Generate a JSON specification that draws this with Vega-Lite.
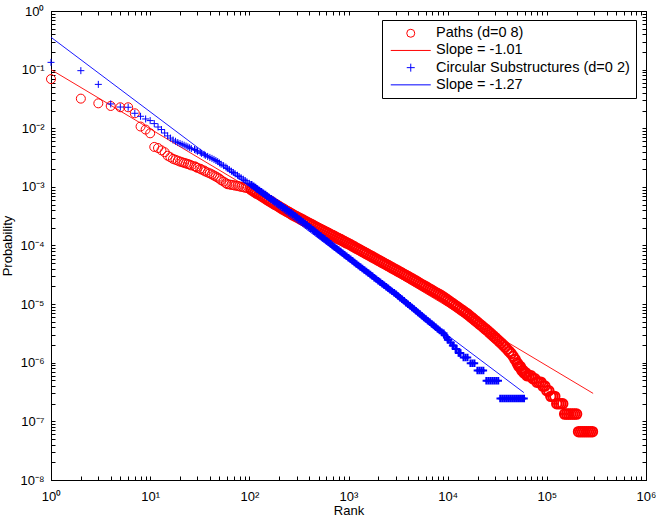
{
  "$schema": "https://vega.github.io/schema/vega-lite/v6.json",
  "width": 595,
  "height": 469,
  "autosize": {"type": "none"},
  "padding": {"left": 51, "top": 11, "right": 10, "bottom": 39},
  "background": "white",
  "config": {
    "view": {"stroke": "black", "strokeWidth": 1},
    "font": "Liberation Sans",
    "axis": {"labelFont": "Liberation Sans", "titleFont": "Liberation Sans", "labelColor": "black", "titleColor": "black", "tickColor": "black", "domainColor": "black", "grid": false, "titleFontWeight": "normal", "titleFontSize": 13, "labelFontSize": 13, "tickWidth": 1, "domainWidth": 1}
  },
  "datasets": {
    "pts": [
      {"series": "Paths (d=0 8)", "rank": 1, "probability": 0.069},
      {"series": "Paths (d=0 8)", "rank": 2, "probability": 0.032},
      {"series": "Paths (d=0 8)", "rank": 3, "probability": 0.0266},
      {"series": "Paths (d=0 8)", "rank": 4, "probability": 0.024},
      {"series": "Paths (d=0 8)", "rank": 5, "probability": 0.0228},
      {"series": "Paths (d=0 8)", "rank": 6, "probability": 0.0228},
      {"series": "Paths (d=0 8)", "rank": 7, "probability": 0.018},
      {"series": "Paths (d=0 8)", "rank": 8, "probability": 0.0107},
      {"series": "Paths (d=0 8)", "rank": 9, "probability": 0.0095},
      {"series": "Paths (d=0 8)", "rank": 10, "probability": 0.0082},
      {"series": "Paths (d=0 8)", "rank": 11, "probability": 0.0048},
      {"series": "Paths (d=0 8)", "rank": 12, "probability": 0.0046},
      {"series": "Paths (d=0 8)", "rank": 13, "probability": 0.0042},
      {"series": "Paths (d=0 8)", "rank": 14, "probability": 0.0039},
      {"series": "Paths (d=0 8)", "rank": 15, "probability": 0.0034},
      {"series": "Paths (d=0 8)", "rank": 16, "probability": 0.0032},
      {"series": "Paths (d=0 8)", "rank": 17, "probability": 0.0030},
      {"series": "Paths (d=0 8)", "rank": 18, "probability": 0.0029},
      {"series": "Paths (d=0 8)", "rank": 19, "probability": 0.0028},
      {"series": "Paths (d=0 8)", "rank": 20, "probability": 0.0027},
      {"series": "Paths (d=0 8)", "rank": 21, "probability": 0.00263},
      {"series": "Paths (d=0 8)", "rank": 22, "probability": 0.00257},
      {"series": "Paths (d=0 8)", "rank": 23, "probability": 0.00251},
      {"series": "Paths (d=0 8)", "rank": 24, "probability": 0.00245},
      {"series": "Paths (d=0 8)", "rank": 25, "probability": 0.0024},
      {"series": "Paths (d=0 8)", "rank": 26, "probability": 0.00232},
      {"series": "Paths (d=0 8)", "rank": 28, "probability": 0.00225},
      {"series": "Paths (d=0 8)", "rank": 29, "probability": 0.00218},
      {"series": "Paths (d=0 8)", "rank": 30, "probability": 0.00211},
      {"series": "Paths (d=0 8)", "rank": 32, "probability": 0.00204},
      {"series": "Paths (d=0 8)", "rank": 33, "probability": 0.00197},
      {"series": "Paths (d=0 8)", "rank": 35, "probability": 0.0019},
      {"series": "Paths (d=0 8)", "rank": 36, "probability": 0.00183},
      {"series": "Paths (d=0 8)", "rank": 38, "probability": 0.00176},
      {"series": "Paths (d=0 8)", "rank": 40, "probability": 0.0017},
      {"series": "Paths (d=0 8)", "rank": 42, "probability": 0.00163},
      {"series": "Paths (d=0 8)", "rank": 44, "probability": 0.00156},
      {"series": "Paths (d=0 8)", "rank": 46, "probability": 0.0015},
      {"series": "Paths (d=0 8)", "rank": 48, "probability": 0.00144},
      {"series": "Paths (d=0 8)", "rank": 50, "probability": 0.00138},
      {"series": "Paths (d=0 8)", "rank": 52, "probability": 0.0013},
      {"series": "Paths (d=0 8)", "rank": 55, "probability": 0.00123},
      {"series": "Paths (d=0 8)", "rank": 58, "probability": 0.00116},
      {"series": "Paths (d=0 8)", "rank": 60, "probability": 0.00111},
      {"series": "Paths (d=0 8)", "rank": 63, "probability": 0.0011},
      {"series": "Paths (d=0 8)", "rank": 66, "probability": 0.00108},
      {"series": "Paths (d=0 8)", "rank": 69, "probability": 0.00107},
      {"series": "Paths (d=0 8)", "rank": 72, "probability": 0.00105},
      {"series": "Paths (d=0 8)", "rank": 76, "probability": 0.00104},
      {"series": "Paths (d=0 8)", "rank": 79, "probability": 0.00102},
      {"series": "Paths (d=0 8)", "rank": 83, "probability": 0.001},
      {"series": "Paths (d=0 8)", "rank": 87, "probability": 0.000986},
      {"series": "Paths (d=0 8)", "rank": 91, "probability": 0.000968},
      {"series": "Paths (d=0 8)", "rank": 95, "probability": 0.000951},
      {"series": "Paths (d=0 8)", "rank": 100, "probability": 0.000933},
      {"series": "Paths (d=0 8)", "rank": 105, "probability": 0.000891},
      {"series": "Paths (d=0 8)", "rank": 110, "probability": 0.000851},
      {"series": "Paths (d=0 8)", "rank": 115, "probability": 0.000813},
      {"series": "Paths (d=0 8)", "rank": 120, "probability": 0.000776},
      {"series": "Paths (d=0 8)", "rank": 126, "probability": 0.000741},
      {"series": "Paths (d=0 8)", "rank": 132, "probability": 0.000706},
      {"series": "Paths (d=0 8)", "rank": 138, "probability": 0.000673},
      {"series": "Paths (d=0 8)", "rank": 145, "probability": 0.000641},
      {"series": "Paths (d=0 8)", "rank": 151, "probability": 0.000611},
      {"series": "Paths (d=0 8)", "rank": 158, "probability": 0.000582},
      {"series": "Paths (d=0 8)", "rank": 166, "probability": 0.000555},
      {"series": "Paths (d=0 8)", "rank": 174, "probability": 0.000528},
      {"series": "Paths (d=0 8)", "rank": 182, "probability": 0.000504},
      {"series": "Paths (d=0 8)", "rank": 191, "probability": 0.00048},
      {"series": "Paths (d=0 8)", "rank": 200, "probability": 0.000457},
      {"series": "Paths (d=0 8)", "rank": 209, "probability": 0.000437},
      {"series": "Paths (d=0 8)", "rank": 219, "probability": 0.000418},
      {"series": "Paths (d=0 8)", "rank": 229, "probability": 0.000399},
      {"series": "Paths (d=0 8)", "rank": 240, "probability": 0.000382},
      {"series": "Paths (d=0 8)", "rank": 251, "probability": 0.000365},
      {"series": "Paths (d=0 8)", "rank": 263, "probability": 0.000349},
      {"series": "Paths (d=0 8)", "rank": 275, "probability": 0.000333},
      {"series": "Paths (d=0 8)", "rank": 288, "probability": 0.00032},
      {"series": "Paths (d=0 8)", "rank": 302, "probability": 0.000307},
      {"series": "Paths (d=0 8)", "rank": 316, "probability": 0.000294},
      {"series": "Paths (d=0 8)", "rank": 331, "probability": 0.000282},
      {"series": "Paths (d=0 8)", "rank": 347, "probability": 0.000271},
      {"series": "Paths (d=0 8)", "rank": 363, "probability": 0.00026},
      {"series": "Paths (d=0 8)", "rank": 380, "probability": 0.000249},
      {"series": "Paths (d=0 8)", "rank": 398, "probability": 0.00024},
      {"series": "Paths (d=0 8)", "rank": 417, "probability": 0.00023},
      {"series": "Paths (d=0 8)", "rank": 437, "probability": 0.000221},
      {"series": "Paths (d=0 8)", "rank": 457, "probability": 0.000212},
      {"series": "Paths (d=0 8)", "rank": 479, "probability": 0.000203},
      {"series": "Paths (d=0 8)", "rank": 501, "probability": 0.000195},
      {"series": "Paths (d=0 8)", "rank": 525, "probability": 0.000187},
      {"series": "Paths (d=0 8)", "rank": 550, "probability": 0.00018},
      {"series": "Paths (d=0 8)", "rank": 575, "probability": 0.000173},
      {"series": "Paths (d=0 8)", "rank": 603, "probability": 0.000166},
      {"series": "Paths (d=0 8)", "rank": 631, "probability": 0.00016},
      {"series": "Paths (d=0 8)", "rank": 661, "probability": 0.000153},
      {"series": "Paths (d=0 8)", "rank": 692, "probability": 0.000148},
      {"series": "Paths (d=0 8)", "rank": 724, "probability": 0.000142},
      {"series": "Paths (d=0 8)", "rank": 759, "probability": 0.000136},
      {"series": "Paths (d=0 8)", "rank": 794, "probability": 0.000131},
      {"series": "Paths (d=0 8)", "rank": 832, "probability": 0.000126},
      {"series": "Paths (d=0 8)", "rank": 871, "probability": 0.000121},
      {"series": "Paths (d=0 8)", "rank": 912, "probability": 0.000116},
      {"series": "Paths (d=0 8)", "rank": 955, "probability": 0.000111},
      {"series": "Paths (d=0 8)", "rank": 1000, "probability": 0.000107},
      {"series": "Paths (d=0 8)", "rank": 1047, "probability": 0.000103},
      {"series": "Paths (d=0 8)", "rank": 1096, "probability": 9.84e-5},
      {"series": "Paths (d=0 8)", "rank": 1148, "probability": 9.42e-5},
      {"series": "Paths (d=0 8)", "rank": 1202, "probability": 9.02e-5},
      {"series": "Paths (d=0 8)", "rank": 1259, "probability": 8.65e-5},
      {"series": "Paths (d=0 8)", "rank": 1318, "probability": 8.28e-5},
      {"series": "Paths (d=0 8)", "rank": 1380, "probability": 7.93e-5},
      {"series": "Paths (d=0 8)", "rank": 1445, "probability": 7.6e-5},
      {"series": "Paths (d=0 8)", "rank": 1514, "probability": 7.28e-5},
      {"series": "Paths (d=0 8)", "rank": 1585, "probability": 6.97e-5},
      {"series": "Paths (d=0 8)", "rank": 1660, "probability": 6.68e-5},
      {"series": "Paths (d=0 8)", "rank": 1738, "probability": 6.4e-5},
      {"series": "Paths (d=0 8)", "rank": 1820, "probability": 6.12e-5},
      {"series": "Paths (d=0 8)", "rank": 1905, "probability": 5.87e-5},
      {"series": "Paths (d=0 8)", "rank": 1995, "probability": 5.62e-5},
      {"series": "Paths (d=0 8)", "rank": 2089, "probability": 5.38e-5},
      {"series": "Paths (d=0 8)", "rank": 2188, "probability": 5.16e-5},
      {"series": "Paths (d=0 8)", "rank": 2291, "probability": 4.94e-5},
      {"series": "Paths (d=0 8)", "rank": 2399, "probability": 4.73e-5},
      {"series": "Paths (d=0 8)", "rank": 2512, "probability": 4.54e-5},
      {"series": "Paths (d=0 8)", "rank": 2630, "probability": 4.35e-5},
      {"series": "Paths (d=0 8)", "rank": 2754, "probability": 4.16e-5},
      {"series": "Paths (d=0 8)", "rank": 2884, "probability": 3.99e-5},
      {"series": "Paths (d=0 8)", "rank": 3020, "probability": 3.82e-5},
      {"series": "Paths (d=0 8)", "rank": 3162, "probability": 3.66e-5},
      {"series": "Paths (d=0 8)", "rank": 3311, "probability": 3.51e-5},
      {"series": "Paths (d=0 8)", "rank": 3467, "probability": 3.36e-5},
      {"series": "Paths (d=0 8)", "rank": 3631, "probability": 3.21e-5},
      {"series": "Paths (d=0 8)", "rank": 3802, "probability": 3.08e-5},
      {"series": "Paths (d=0 8)", "rank": 3981, "probability": 2.95e-5},
      {"series": "Paths (d=0 8)", "rank": 4169, "probability": 2.82e-5},
      {"series": "Paths (d=0 8)", "rank": 4365, "probability": 2.7e-5},
      {"series": "Paths (d=0 8)", "rank": 4571, "probability": 2.58e-5},
      {"series": "Paths (d=0 8)", "rank": 4786, "probability": 2.47e-5},
      {"series": "Paths (d=0 8)", "rank": 5012, "probability": 2.36e-5},
      {"series": "Paths (d=0 8)", "rank": 5248, "probability": 2.25e-5},
      {"series": "Paths (d=0 8)", "rank": 5495, "probability": 2.15e-5},
      {"series": "Paths (d=0 8)", "rank": 5754, "probability": 2.06e-5},
      {"series": "Paths (d=0 8)", "rank": 6026, "probability": 1.97e-5},
      {"series": "Paths (d=0 8)", "rank": 6310, "probability": 1.88e-5},
      {"series": "Paths (d=0 8)", "rank": 6607, "probability": 1.8e-5},
      {"series": "Paths (d=0 8)", "rank": 6918, "probability": 1.72e-5},
      {"series": "Paths (d=0 8)", "rank": 7244, "probability": 1.64e-5},
      {"series": "Paths (d=0 8)", "rank": 7586, "probability": 1.57e-5},
      {"series": "Paths (d=0 8)", "rank": 7943, "probability": 1.5e-5},
      {"series": "Paths (d=0 8)", "rank": 8318, "probability": 1.44e-5},
      {"series": "Paths (d=0 8)", "rank": 8710, "probability": 1.37e-5},
      {"series": "Paths (d=0 8)", "rank": 9120, "probability": 1.31e-5},
      {"series": "Paths (d=0 8)", "rank": 9550, "probability": 1.24e-5},
      {"series": "Paths (d=0 8)", "rank": 10000, "probability": 1.17e-5},
      {"series": "Paths (d=0 8)", "rank": 10471, "probability": 1.11e-5},
      {"series": "Paths (d=0 8)", "rank": 10965, "probability": 1.05e-5},
      {"series": "Paths (d=0 8)", "rank": 11482, "probability": 9.93e-6},
      {"series": "Paths (d=0 8)", "rank": 12023, "probability": 9.4e-6},
      {"series": "Paths (d=0 8)", "rank": 12589, "probability": 8.91e-6},
      {"series": "Paths (d=0 8)", "rank": 13183, "probability": 8.43e-6},
      {"series": "Paths (d=0 8)", "rank": 13804, "probability": 7.98e-6},
      {"series": "Paths (d=0 8)", "rank": 14454, "probability": 7.55e-6},
      {"series": "Paths (d=0 8)", "rank": 15136, "probability": 7.14e-6},
      {"series": "Paths (d=0 8)", "rank": 15849, "probability": 6.76e-6},
      {"series": "Paths (d=0 8)", "rank": 16596, "probability": 6.34e-6},
      {"series": "Paths (d=0 8)", "rank": 17378, "probability": 5.94e-6},
      {"series": "Paths (d=0 8)", "rank": 18197, "probability": 5.57e-6},
      {"series": "Paths (d=0 8)", "rank": 19055, "probability": 5.22e-6},
      {"series": "Paths (d=0 8)", "rank": 19953, "probability": 4.9e-6},
      {"series": "Paths (d=0 8)", "rank": 20893, "probability": 4.59e-6},
      {"series": "Paths (d=0 8)", "rank": 21878, "probability": 4.31e-6},
      {"series": "Paths (d=0 8)", "rank": 22909, "probability": 4.04e-6},
      {"series": "Paths (d=0 8)", "rank": 23988, "probability": 3.78e-6},
      {"series": "Paths (d=0 8)", "rank": 25119, "probability": 3.55e-6},
      {"series": "Paths (d=0 8)", "rank": 26303, "probability": 3.3e-6},
      {"series": "Paths (d=0 8)", "rank": 27542, "probability": 3.08e-6},
      {"series": "Paths (d=0 8)", "rank": 28840, "probability": 2.87e-6},
      {"series": "Paths (d=0 8)", "rank": 30200, "probability": 2.68e-6},
      {"series": "Paths (d=0 8)", "rank": 31623, "probability": 2.49e-6},
      {"series": "Paths (d=0 8)", "rank": 33113, "probability": 2.32e-6},
      {"series": "Paths (d=0 8)", "rank": 34674, "probability": 2.16e-6},
      {"series": "Paths (d=0 8)", "rank": 36308, "probability": 2.0e-6},
      {"series": "Paths (d=0 8)", "rank": 38019, "probability": 1.85e-6},
      {"series": "Paths (d=0 8)", "rank": 39811, "probability": 1.7e-6},
      {"series": "Paths (d=0 8)", "rank": 41687, "probability": 1.56e-6},
      {"series": "Paths (d=0 8)", "rank": 43652, "probability": 1.44e-6},
      {"series": "Paths (d=0 8)", "rank": 45709, "probability": 1.29e-6},
      {"series": "Paths (d=0 8)", "rank": 47863, "probability": 1.14e-6},
      {"series": "Paths (d=0 8)", "rank": 50119, "probability": 1.0e-6},
      {"series": "Paths (d=0 8)", "rank": 51286, "probability": 9.33e-7},
      {"series": "Paths (d=0 8)", "rank": 52481, "probability": 8.67e-7},
      {"series": "Paths (d=0 8)", "rank": 53703, "probability": 8.67e-7},
      {"series": "Paths (d=0 8)", "rank": 54954, "probability": 8.0e-7},
      {"series": "Paths (d=0 8)", "rank": 56234, "probability": 7.33e-7},
      {"series": "Paths (d=0 8)", "rank": 57544, "probability": 7.33e-7},
      {"series": "Paths (d=0 8)", "rank": 58884, "probability": 6.67e-7},
      {"series": "Paths (d=0 8)", "rank": 60256, "probability": 6.67e-7},
      {"series": "Paths (d=0 8)", "rank": 61660, "probability": 6.67e-7},
      {"series": "Paths (d=0 8)", "rank": 63096, "probability": 6.0e-7},
      {"series": "Paths (d=0 8)", "rank": 66069, "probability": 6.0e-7},
      {"series": "Paths (d=0 8)", "rank": 69183, "probability": 6.0e-7},
      {"series": "Paths (d=0 8)", "rank": 72444, "probability": 5.33e-7},
      {"series": "Paths (d=0 8)", "rank": 75858, "probability": 5.33e-7},
      {"series": "Paths (d=0 8)", "rank": 79433, "probability": 4.67e-7},
      {"series": "Paths (d=0 8)", "rank": 83176, "probability": 4.67e-7},
      {"series": "Paths (d=0 8)", "rank": 87096, "probability": 4.67e-7},
      {"series": "Paths (d=0 8)", "rank": 91201, "probability": 4.0e-7},
      {"series": "Paths (d=0 8)", "rank": 95499, "probability": 4.0e-7},
      {"series": "Paths (d=0 8)", "rank": 100000, "probability": 3.33e-7},
      {"series": "Paths (d=0 8)", "rank": 104713, "probability": 3.33e-7},
      {"series": "Paths (d=0 8)", "rank": 109648, "probability": 2.67e-7},
      {"series": "Paths (d=0 8)", "rank": 114815, "probability": 2.67e-7},
      {"series": "Paths (d=0 8)", "rank": 120226, "probability": 2.67e-7},
      {"series": "Paths (d=0 8)", "rank": 125893, "probability": 2.0e-7},
      {"series": "Paths (d=0 8)", "rank": 131826, "probability": 2.0e-7},
      {"series": "Paths (d=0 8)", "rank": 138038, "probability": 2.0e-7},
      {"series": "Paths (d=0 8)", "rank": 144544, "probability": 2.0e-7},
      {"series": "Paths (d=0 8)", "rank": 151356, "probability": 1.33e-7},
      {"series": "Paths (d=0 8)", "rank": 158489, "probability": 1.33e-7},
      {"series": "Paths (d=0 8)", "rank": 165959, "probability": 1.33e-7},
      {"series": "Paths (d=0 8)", "rank": 173780, "probability": 1.33e-7},
      {"series": "Paths (d=0 8)", "rank": 181970, "probability": 1.33e-7},
      {"series": "Paths (d=0 8)", "rank": 190546, "probability": 1.33e-7},
      {"series": "Paths (d=0 8)", "rank": 199526, "probability": 1.33e-7},
      {"series": "Paths (d=0 8)", "rank": 208930, "probability": 6.67e-8},
      {"series": "Paths (d=0 8)", "rank": 218776, "probability": 6.67e-8},
      {"series": "Paths (d=0 8)", "rank": 229087, "probability": 6.67e-8},
      {"series": "Paths (d=0 8)", "rank": 239883, "probability": 6.67e-8},
      {"series": "Paths (d=0 8)", "rank": 251189, "probability": 6.67e-8},
      {"series": "Paths (d=0 8)", "rank": 263027, "probability": 6.67e-8},
      {"series": "Paths (d=0 8)", "rank": 275423, "probability": 6.67e-8},
      {"series": "Paths (d=0 8)", "rank": 288403, "probability": 6.67e-8},
      {"series": "Circular Substructures (d=0 2)", "rank": 1, "probability": 0.133},
      {"series": "Circular Substructures (d=0 2)", "rank": 2, "probability": 0.096},
      {"series": "Circular Substructures (d=0 2)", "rank": 3, "probability": 0.056},
      {"series": "Circular Substructures (d=0 2)", "rank": 4, "probability": 0.026},
      {"series": "Circular Substructures (d=0 2)", "rank": 5, "probability": 0.023},
      {"series": "Circular Substructures (d=0 2)", "rank": 6, "probability": 0.0228},
      {"series": "Circular Substructures (d=0 2)", "rank": 7, "probability": 0.018},
      {"series": "Circular Substructures (d=0 2)", "rank": 8, "probability": 0.016},
      {"series": "Circular Substructures (d=0 2)", "rank": 9, "probability": 0.0144},
      {"series": "Circular Substructures (d=0 2)", "rank": 10, "probability": 0.0135},
      {"series": "Circular Substructures (d=0 2)", "rank": 11, "probability": 0.012},
      {"series": "Circular Substructures (d=0 2)", "rank": 12, "probability": 0.0105},
      {"series": "Circular Substructures (d=0 2)", "rank": 13, "probability": 0.0095},
      {"series": "Circular Substructures (d=0 2)", "rank": 14, "probability": 0.0083},
      {"series": "Circular Substructures (d=0 2)", "rank": 15, "probability": 0.0074},
      {"series": "Circular Substructures (d=0 2)", "rank": 16, "probability": 0.0068},
      {"series": "Circular Substructures (d=0 2)", "rank": 17, "probability": 0.0063},
      {"series": "Circular Substructures (d=0 2)", "rank": 18, "probability": 0.006},
      {"series": "Circular Substructures (d=0 2)", "rank": 19, "probability": 0.0057},
      {"series": "Circular Substructures (d=0 2)", "rank": 20, "probability": 0.0055},
      {"series": "Circular Substructures (d=0 2)", "rank": 21, "probability": 0.00532},
      {"series": "Circular Substructures (d=0 2)", "rank": 22, "probability": 0.00514},
      {"series": "Circular Substructures (d=0 2)", "rank": 23, "probability": 0.00497},
      {"series": "Circular Substructures (d=0 2)", "rank": 24, "probability": 0.00481},
      {"series": "Circular Substructures (d=0 2)", "rank": 25, "probability": 0.00465},
      {"series": "Circular Substructures (d=0 2)", "rank": 26, "probability": 0.00449},
      {"series": "Circular Substructures (d=0 2)", "rank": 28, "probability": 0.00434},
      {"series": "Circular Substructures (d=0 2)", "rank": 29, "probability": 0.0042},
      {"series": "Circular Substructures (d=0 2)", "rank": 30, "probability": 0.00405},
      {"series": "Circular Substructures (d=0 2)", "rank": 32, "probability": 0.00389},
      {"series": "Circular Substructures (d=0 2)", "rank": 33, "probability": 0.00373},
      {"series": "Circular Substructures (d=0 2)", "rank": 35, "probability": 0.00359},
      {"series": "Circular Substructures (d=0 2)", "rank": 36, "probability": 0.00345},
      {"series": "Circular Substructures (d=0 2)", "rank": 38, "probability": 0.00331},
      {"series": "Circular Substructures (d=0 2)", "rank": 40, "probability": 0.00318},
      {"series": "Circular Substructures (d=0 2)", "rank": 42, "probability": 0.00306},
      {"series": "Circular Substructures (d=0 2)", "rank": 44, "probability": 0.00294},
      {"series": "Circular Substructures (d=0 2)", "rank": 46, "probability": 0.00282},
      {"series": "Circular Substructures (d=0 2)", "rank": 48, "probability": 0.0027},
      {"series": "Circular Substructures (d=0 2)", "rank": 50, "probability": 0.00256},
      {"series": "Circular Substructures (d=0 2)", "rank": 52, "probability": 0.00243},
      {"series": "Circular Substructures (d=0 2)", "rank": 55, "probability": 0.0023},
      {"series": "Circular Substructures (d=0 2)", "rank": 58, "probability": 0.00218},
      {"series": "Circular Substructures (d=0 2)", "rank": 60, "probability": 0.00207},
      {"series": "Circular Substructures (d=0 2)", "rank": 63, "probability": 0.00196},
      {"series": "Circular Substructures (d=0 2)", "rank": 66, "probability": 0.00185},
      {"series": "Circular Substructures (d=0 2)", "rank": 69, "probability": 0.00176},
      {"series": "Circular Substructures (d=0 2)", "rank": 72, "probability": 0.00167},
      {"series": "Circular Substructures (d=0 2)", "rank": 76, "probability": 0.00158},
      {"series": "Circular Substructures (d=0 2)", "rank": 79, "probability": 0.0015},
      {"series": "Circular Substructures (d=0 2)", "rank": 83, "probability": 0.00142},
      {"series": "Circular Substructures (d=0 2)", "rank": 87, "probability": 0.00135},
      {"series": "Circular Substructures (d=0 2)", "rank": 91, "probability": 0.00128},
      {"series": "Circular Substructures (d=0 2)", "rank": 95, "probability": 0.00121},
      {"series": "Circular Substructures (d=0 2)", "rank": 100, "probability": 0.00115},
      {"series": "Circular Substructures (d=0 2)", "rank": 105, "probability": 0.00109},
      {"series": "Circular Substructures (d=0 2)", "rank": 110, "probability": 0.00103},
      {"series": "Circular Substructures (d=0 2)", "rank": 115, "probability": 0.000973},
      {"series": "Circular Substructures (d=0 2)", "rank": 120, "probability": 0.000921},
      {"series": "Circular Substructures (d=0 2)", "rank": 126, "probability": 0.000871},
      {"series": "Circular Substructures (d=0 2)", "rank": 132, "probability": 0.000824},
      {"series": "Circular Substructures (d=0 2)", "rank": 138, "probability": 0.000781},
      {"series": "Circular Substructures (d=0 2)", "rank": 145, "probability": 0.000739},
      {"series": "Circular Substructures (d=0 2)", "rank": 151, "probability": 0.0007},
      {"series": "Circular Substructures (d=0 2)", "rank": 158, "probability": 0.000662},
      {"series": "Circular Substructures (d=0 2)", "rank": 166, "probability": 0.000627},
      {"series": "Circular Substructures (d=0 2)", "rank": 174, "probability": 0.000593},
      {"series": "Circular Substructures (d=0 2)", "rank": 182, "probability": 0.000561},
      {"series": "Circular Substructures (d=0 2)", "rank": 191, "probability": 0.000531},
      {"series": "Circular Substructures (d=0 2)", "rank": 200, "probability": 0.000502},
      {"series": "Circular Substructures (d=0 2)", "rank": 209, "probability": 0.000475},
      {"series": "Circular Substructures (d=0 2)", "rank": 219, "probability": 0.00045},
      {"series": "Circular Substructures (d=0 2)", "rank": 229, "probability": 0.000426},
      {"series": "Circular Substructures (d=0 2)", "rank": 240, "probability": 0.000403},
      {"series": "Circular Substructures (d=0 2)", "rank": 251, "probability": 0.000381},
      {"series": "Circular Substructures (d=0 2)", "rank": 263, "probability": 0.000361},
      {"series": "Circular Substructures (d=0 2)", "rank": 275, "probability": 0.000342},
      {"series": "Circular Substructures (d=0 2)", "rank": 288, "probability": 0.000321},
      {"series": "Circular Substructures (d=0 2)", "rank": 302, "probability": 0.000303},
      {"series": "Circular Substructures (d=0 2)", "rank": 316, "probability": 0.000284},
      {"series": "Circular Substructures (d=0 2)", "rank": 331, "probability": 0.000268},
      {"series": "Circular Substructures (d=0 2)", "rank": 347, "probability": 0.000252},
      {"series": "Circular Substructures (d=0 2)", "rank": 363, "probability": 0.000237},
      {"series": "Circular Substructures (d=0 2)", "rank": 380, "probability": 0.000223},
      {"series": "Circular Substructures (d=0 2)", "rank": 398, "probability": 0.000209},
      {"series": "Circular Substructures (d=0 2)", "rank": 417, "probability": 0.000197},
      {"series": "Circular Substructures (d=0 2)", "rank": 437, "probability": 0.000185},
      {"series": "Circular Substructures (d=0 2)", "rank": 457, "probability": 0.000175},
      {"series": "Circular Substructures (d=0 2)", "rank": 479, "probability": 0.000164},
      {"series": "Circular Substructures (d=0 2)", "rank": 501, "probability": 0.000154},
      {"series": "Circular Substructures (d=0 2)", "rank": 525, "probability": 0.000145},
      {"series": "Circular Substructures (d=0 2)", "rank": 550, "probability": 0.000136},
      {"series": "Circular Substructures (d=0 2)", "rank": 575, "probability": 0.000129},
      {"series": "Circular Substructures (d=0 2)", "rank": 603, "probability": 0.000121},
      {"series": "Circular Substructures (d=0 2)", "rank": 631, "probability": 0.000114},
      {"series": "Circular Substructures (d=0 2)", "rank": 661, "probability": 0.000107},
      {"series": "Circular Substructures (d=0 2)", "rank": 692, "probability": 0.0001},
      {"series": "Circular Substructures (d=0 2)", "rank": 724, "probability": 9.46e-5},
      {"series": "Circular Substructures (d=0 2)", "rank": 759, "probability": 8.9e-5},
      {"series": "Circular Substructures (d=0 2)", "rank": 794, "probability": 8.38e-5},
      {"series": "Circular Substructures (d=0 2)", "rank": 832, "probability": 7.87e-5},
      {"series": "Circular Substructures (d=0 2)", "rank": 871, "probability": 7.41e-5},
      {"series": "Circular Substructures (d=0 2)", "rank": 912, "probability": 6.97e-5},
      {"series": "Circular Substructures (d=0 2)", "rank": 955, "probability": 6.56e-5},
      {"series": "Circular Substructures (d=0 2)", "rank": 1000, "probability": 6.17e-5},
      {"series": "Circular Substructures (d=0 2)", "rank": 1047, "probability": 5.81e-5},
      {"series": "Circular Substructures (d=0 2)", "rank": 1096, "probability": 5.47e-5},
      {"series": "Circular Substructures (d=0 2)", "rank": 1148, "probability": 5.15e-5},
      {"series": "Circular Substructures (d=0 2)", "rank": 1202, "probability": 4.85e-5},
      {"series": "Circular Substructures (d=0 2)", "rank": 1259, "probability": 4.57e-5},
      {"series": "Circular Substructures (d=0 2)", "rank": 1318, "probability": 4.31e-5},
      {"series": "Circular Substructures (d=0 2)", "rank": 1380, "probability": 4.06e-5},
      {"series": "Circular Substructures (d=0 2)", "rank": 1445, "probability": 3.82e-5},
      {"series": "Circular Substructures (d=0 2)", "rank": 1514, "probability": 3.6e-5},
      {"series": "Circular Substructures (d=0 2)", "rank": 1585, "probability": 3.39e-5},
      {"series": "Circular Substructures (d=0 2)", "rank": 1660, "probability": 3.19e-5},
      {"series": "Circular Substructures (d=0 2)", "rank": 1738, "probability": 3.01e-5},
      {"series": "Circular Substructures (d=0 2)", "rank": 1820, "probability": 2.83e-5},
      {"series": "Circular Substructures (d=0 2)", "rank": 1905, "probability": 2.67e-5},
      {"series": "Circular Substructures (d=0 2)", "rank": 1995, "probability": 2.51e-5},
      {"series": "Circular Substructures (d=0 2)", "rank": 2089, "probability": 2.37e-5},
      {"series": "Circular Substructures (d=0 2)", "rank": 2188, "probability": 2.23e-5},
      {"series": "Circular Substructures (d=0 2)", "rank": 2291, "probability": 2.1e-5},
      {"series": "Circular Substructures (d=0 2)", "rank": 2399, "probability": 1.98e-5},
      {"series": "Circular Substructures (d=0 2)", "rank": 2512, "probability": 1.86e-5},
      {"series": "Circular Substructures (d=0 2)", "rank": 2630, "probability": 1.75e-5},
      {"series": "Circular Substructures (d=0 2)", "rank": 2754, "probability": 1.65e-5},
      {"series": "Circular Substructures (d=0 2)", "rank": 2884, "probability": 1.56e-5},
      {"series": "Circular Substructures (d=0 2)", "rank": 3020, "probability": 1.47e-5},
      {"series": "Circular Substructures (d=0 2)", "rank": 3162, "probability": 1.38e-5},
      {"series": "Circular Substructures (d=0 2)", "rank": 3311, "probability": 1.29e-5},
      {"series": "Circular Substructures (d=0 2)", "rank": 3467, "probability": 1.21e-5},
      {"series": "Circular Substructures (d=0 2)", "rank": 3631, "probability": 1.14e-5},
      {"series": "Circular Substructures (d=0 2)", "rank": 3802, "probability": 1.06e-5},
      {"series": "Circular Substructures (d=0 2)", "rank": 3981, "probability": 9.98e-6},
      {"series": "Circular Substructures (d=0 2)", "rank": 4169, "probability": 9.35e-6},
      {"series": "Circular Substructures (d=0 2)", "rank": 4365, "probability": 8.77e-6},
      {"series": "Circular Substructures (d=0 2)", "rank": 4571, "probability": 8.22e-6},
      {"series": "Circular Substructures (d=0 2)", "rank": 4786, "probability": 7.71e-6},
      {"series": "Circular Substructures (d=0 2)", "rank": 5012, "probability": 7.22e-6},
      {"series": "Circular Substructures (d=0 2)", "rank": 5248, "probability": 6.76e-6},
      {"series": "Circular Substructures (d=0 2)", "rank": 5495, "probability": 6.34e-6},
      {"series": "Circular Substructures (d=0 2)", "rank": 5754, "probability": 5.94e-6},
      {"series": "Circular Substructures (d=0 2)", "rank": 6026, "probability": 5.57e-6},
      {"series": "Circular Substructures (d=0 2)", "rank": 6310, "probability": 5.22e-6},
      {"series": "Circular Substructures (d=0 2)", "rank": 6607, "probability": 4.9e-6},
      {"series": "Circular Substructures (d=0 2)", "rank": 6918, "probability": 4.59e-6},
      {"series": "Circular Substructures (d=0 2)", "rank": 7244, "probability": 4.31e-6},
      {"series": "Circular Substructures (d=0 2)", "rank": 7586, "probability": 4.03e-6},
      {"series": "Circular Substructures (d=0 2)", "rank": 7943, "probability": 3.78e-6},
      {"series": "Circular Substructures (d=0 2)", "rank": 8318, "probability": 3.54e-6},
      {"series": "Circular Substructures (d=0 2)", "rank": 8710, "probability": 3.32e-6},
      {"series": "Circular Substructures (d=0 2)", "rank": 9120, "probability": 3.19e-6},
      {"series": "Circular Substructures (d=0 2)", "rank": 9333, "probability": 2.95e-6},
      {"series": "Circular Substructures (d=0 2)", "rank": 9772, "probability": 2.7e-6},
      {"series": "Circular Substructures (d=0 2)", "rank": 10000, "probability": 2.46e-6},
      {"series": "Circular Substructures (d=0 2)", "rank": 10233, "probability": 2.46e-6},
      {"series": "Circular Substructures (d=0 2)", "rank": 10715, "probability": 2.21e-6},
      {"series": "Circular Substructures (d=0 2)", "rank": 11220, "probability": 1.97e-6},
      {"series": "Circular Substructures (d=0 2)", "rank": 11482, "probability": 1.97e-6},
      {"series": "Circular Substructures (d=0 2)", "rank": 12023, "probability": 1.72e-6},
      {"series": "Circular Substructures (d=0 2)", "rank": 12303, "probability": 1.72e-6},
      {"series": "Circular Substructures (d=0 2)", "rank": 12882, "probability": 1.47e-6},
      {"series": "Circular Substructures (d=0 2)", "rank": 13183, "probability": 1.47e-6},
      {"series": "Circular Substructures (d=0 2)", "rank": 13490, "probability": 1.47e-6},
      {"series": "Circular Substructures (d=0 2)", "rank": 14454, "probability": 1.23e-6},
      {"series": "Circular Substructures (d=0 2)", "rank": 15136, "probability": 1.23e-6},
      {"series": "Circular Substructures (d=0 2)", "rank": 15849, "probability": 1.23e-6},
      {"series": "Circular Substructures (d=0 2)", "rank": 16982, "probability": 9.83e-7},
      {"series": "Circular Substructures (d=0 2)", "rank": 17783, "probability": 9.83e-7},
      {"series": "Circular Substructures (d=0 2)", "rank": 18621, "probability": 9.83e-7},
      {"series": "Circular Substructures (d=0 2)", "rank": 19953, "probability": 7.37e-7},
      {"series": "Circular Substructures (d=0 2)", "rank": 20893, "probability": 7.37e-7},
      {"series": "Circular Substructures (d=0 2)", "rank": 21878, "probability": 7.37e-7},
      {"series": "Circular Substructures (d=0 2)", "rank": 22909, "probability": 7.37e-7},
      {"series": "Circular Substructures (d=0 2)", "rank": 24547, "probability": 4.91e-7},
      {"series": "Circular Substructures (d=0 2)", "rank": 25704, "probability": 4.91e-7},
      {"series": "Circular Substructures (d=0 2)", "rank": 26915, "probability": 4.91e-7},
      {"series": "Circular Substructures (d=0 2)", "rank": 28184, "probability": 4.91e-7},
      {"series": "Circular Substructures (d=0 2)", "rank": 29512, "probability": 4.91e-7},
      {"series": "Circular Substructures (d=0 2)", "rank": 30903, "probability": 4.91e-7},
      {"series": "Circular Substructures (d=0 2)", "rank": 32359, "probability": 4.91e-7},
      {"series": "Circular Substructures (d=0 2)", "rank": 33884, "probability": 2.46e-7},
      {"series": "Circular Substructures (d=0 2)", "rank": 35481, "probability": 2.46e-7},
      {"series": "Circular Substructures (d=0 2)", "rank": 37154, "probability": 2.46e-7},
      {"series": "Circular Substructures (d=0 2)", "rank": 38905, "probability": 2.46e-7},
      {"series": "Circular Substructures (d=0 2)", "rank": 40738, "probability": 2.46e-7},
      {"series": "Circular Substructures (d=0 2)", "rank": 42658, "probability": 2.46e-7},
      {"series": "Circular Substructures (d=0 2)", "rank": 44668, "probability": 2.46e-7},
      {"series": "Circular Substructures (d=0 2)", "rank": 46774, "probability": 2.46e-7},
      {"series": "Circular Substructures (d=0 2)", "rank": 48978, "probability": 2.46e-7},
      {"series": "Circular Substructures (d=0 2)", "rank": 51286, "probability": 2.46e-7},
      {"series": "Circular Substructures (d=0 2)", "rank": 53703, "probability": 2.46e-7},
      {"series": "Circular Substructures (d=0 2)", "rank": 56234, "probability": 2.46e-7},
      {"series": "Circular Substructures (d=0 2)", "rank": 58884, "probability": 2.46e-7}
    ],
    "fit": [
      {"series": "Slope = -1.01", "rank": 1, "probability": 0.1},
      {"series": "Slope = -1.01", "rank": 293000, "probability": 3.0e-7},
      {"series": "Slope = -1.27", "rank": 1, "probability": 0.356},
      {"series": "Slope = -1.27", "rank": 58600, "probability": 3.1e-7}
    ]
  },
  "layer": [
    {
      "data": {"name": "pts"},
      "transform": [{"filter": "datum.series === 'Paths (d=0 8)' && datum.rank <= 100"}],
      "mark": {"type": "point", "size": 81, "filled": false, "strokeWidth": 1, "opacity": 1},
      "encoding": {
        "x": {"field": "rank", "type": "quantitative",
          "scale": {"type": "log", "domain": [1, 1000000], "nice": false},
          "axis": {"orient": "bottom", "title": "Rank", "tickSize": -4, "labelPadding": 14, "titlePadding": 1, "labelOverlap": false, "labelFlush": false,
            "values": [1,2,3,4,5,6,7,8,9,10,20,30,40,50,60,70,80,90,100,200,300,400,500,600,700,800,900,1000,2000,3000,4000,5000,6000,7000,8000,9000,10000,20000,30000,40000,50000,60000,70000,80000,90000,100000,200000,300000,400000,500000,600000,700000,800000,900000,1000000],
            "labelExpr": "abs(log(datum.value)/LN10 - round(log(datum.value)/LN10)) < 0.01 ? '10' + substring('⁰¹²³⁴⁵⁶⁷⁸⁹', round(log(datum.value)/LN10), round(log(datum.value)/LN10) + 1) : ''"}},
        "y": {"field": "probability", "type": "quantitative",
          "scale": {"type": "log", "domain": [1e-8, 1], "nice": false},
          "axis": {"orient": "left", "title": "Probability", "tickSize": -4, "labelPadding": 11, "titlePadding": 5, "labelOverlap": false, "labelFlush": false,
            "values": [1e-8,2e-8,3e-8,4e-8,5e-8,6e-8,7e-8,8e-8,9e-8,1e-7,2e-7,3e-7,4e-7,5e-7,6e-7,7e-7,8e-7,9e-7,1e-6,2e-6,3e-6,4e-6,5e-6,6e-6,7e-6,8e-6,9e-6,1e-5,2e-5,3e-5,4e-5,5e-5,6e-5,7e-5,8e-5,9e-5,0.0001,0.0002,0.0003,0.0004,0.0005,0.0006,0.0007,0.0008,0.0009,0.001,0.002,0.003,0.004,0.005,0.006,0.007,0.008,0.009,0.01,0.02,0.03,0.04,0.05,0.06,0.07,0.08,0.09,0.1,0.2,0.3,0.4,0.5,0.6,0.7,0.8,0.9,1],
            "labelExpr": "abs(log(datum.value)/LN10 - round(log(datum.value)/LN10)) < 0.01 ? '10' + (round(log(datum.value)/LN10) < 0 ? '⁻' : '') + substring('⁰¹²³⁴⁵⁶⁷⁸⁹', abs(round(log(datum.value)/LN10)), abs(round(log(datum.value)/LN10)) + 1) : ''"}},
        "color": {"field": "series", "type": "nominal",
          "scale": {"domain": ["Paths (d=0 8)", "Slope = -1.01", "Circular Substructures (d=0 2)", "Slope = -1.27"], "range": ["#ff0000", "#ff0000", "#0000ff", "#0000ff"]},
          "legend": {"orient": "none", "legendX": 331, "legendY": 9, "title": null,
            "strokeColor": "black", "fillColor": "white", "padding": 6, "cornerRadius": 0,
            "labelFont": "Liberation Sans", "labelFontSize": 14.5, "labelColor": "black", "labelLimit": 400,
            "symbolSize": 64, "symbolOffset": 15.5, "labelOffset": 18, "rowPadding": 2.2, "symbolStrokeWidth": 1}},
        "shape": {"field": "series", "type": "nominal",
          "scale": {"domain": ["Paths (d=0 8)", "Slope = -1.01", "Circular Substructures (d=0 2)", "Slope = -1.27"], "range": ["circle", "M-5,0H5", "M-1,0H1M0,-1V1", "M-5,0H5"]},
          "legend": {"orient": "none", "legendX": 331, "legendY": 9, "title": null,
            "strokeColor": "black", "fillColor": "white", "padding": 6, "cornerRadius": 0,
            "labelFont": "Liberation Sans", "labelFontSize": 14.5, "labelColor": "black", "labelLimit": 400,
            "symbolSize": 64, "symbolOffset": 15.5, "labelOffset": 18, "rowPadding": 2.2, "symbolStrokeWidth": 1}}
      }
    },
    {
      "data": {"name": "pts"},
      "transform": [{"filter": "datum.series === 'Paths (d=0 8)' && datum.rank > 100"}],
      "mark": {"type": "point", "size": 90, "filled": false, "strokeWidth": 2, "opacity": 1},
      "encoding": {
        "x": {"field": "rank", "type": "quantitative", "axis": null},
        "y": {"field": "probability", "type": "quantitative", "axis": null},
        "color": {"field": "series", "type": "nominal", "legend": null},
        "shape": {"field": "series", "type": "nominal", "legend": null}
      }
    },
    {
      "data": {"name": "fit"},
      "transform": [{"filter": "datum.series === 'Slope = -1.01'"}],
      "mark": {"type": "line", "strokeWidth": 0.9},
      "encoding": {
        "x": {"field": "rank", "type": "quantitative", "axis": null},
        "y": {"field": "probability", "type": "quantitative", "axis": null},
        "color": {"field": "series", "type": "nominal", "legend": null}
      }
    },
    {
      "data": {"name": "pts"},
      "transform": [{"filter": "datum.series === 'Circular Substructures (d=0 2)' && datum.rank <= 100"}],
      "mark": {"type": "point", "size": 49, "filled": false, "strokeWidth": 1, "opacity": 1},
      "encoding": {
        "x": {"field": "rank", "type": "quantitative", "axis": null},
        "y": {"field": "probability", "type": "quantitative", "axis": null},
        "color": {"field": "series", "type": "nominal", "legend": null},
        "shape": {"field": "series", "type": "nominal", "legend": null}
      }
    },
    {
      "data": {"name": "pts"},
      "transform": [{"filter": "datum.series === 'Circular Substructures (d=0 2)' && datum.rank > 100"}],
      "mark": {"type": "point", "size": 56, "filled": false, "strokeWidth": 2, "opacity": 1},
      "encoding": {
        "x": {"field": "rank", "type": "quantitative", "axis": null},
        "y": {"field": "probability", "type": "quantitative", "axis": null},
        "color": {"field": "series", "type": "nominal", "legend": null},
        "shape": {"field": "series", "type": "nominal", "legend": null}
      }
    },
    {
      "data": {"name": "fit"},
      "transform": [{"filter": "datum.series === 'Slope = -1.27'"}],
      "mark": {"type": "line", "strokeWidth": 0.9},
      "encoding": {
        "x": {"field": "rank", "type": "quantitative", "axis": null},
        "y": {"field": "probability", "type": "quantitative", "axis": null},
        "color": {"field": "series", "type": "nominal", "legend": null}
      }
    },
    {
      "data": {"name": "fit"},
      "mark": {"type": "point", "opacity": 0},
      "encoding": {
        "x": {"field": "rank", "type": "quantitative",
          "axis": {"orient": "top", "title": null, "labels": false, "tickSize": -4, "domain": true,
            "values": [1,2,3,4,5,6,7,8,9,10,20,30,40,50,60,70,80,90,100,200,300,400,500,600,700,800,900,1000,2000,3000,4000,5000,6000,7000,8000,9000,10000,20000,30000,40000,50000,60000,70000,80000,90000,100000,200000,300000,400000,500000,600000,700000,800000,900000,1000000]}},
        "y": {"field": "probability", "type": "quantitative",
          "axis": {"orient": "right", "title": null, "labels": false, "tickSize": -4, "domain": true,
            "values": [1e-8,2e-8,3e-8,4e-8,5e-8,6e-8,7e-8,8e-8,9e-8,1e-7,2e-7,3e-7,4e-7,5e-7,6e-7,7e-7,8e-7,9e-7,1e-6,2e-6,3e-6,4e-6,5e-6,6e-6,7e-6,8e-6,9e-6,1e-5,2e-5,3e-5,4e-5,5e-5,6e-5,7e-5,8e-5,9e-5,0.0001,0.0002,0.0003,0.0004,0.0005,0.0006,0.0007,0.0008,0.0009,0.001,0.002,0.003,0.004,0.005,0.006,0.007,0.008,0.009,0.01,0.02,0.03,0.04,0.05,0.06,0.07,0.08,0.09,0.1,0.2,0.3,0.4,0.5,0.6,0.7,0.8,0.9,1]}}
      }
    }
  ],
  "resolve": {"axis": {"x": "independent", "y": "independent"}}
}
